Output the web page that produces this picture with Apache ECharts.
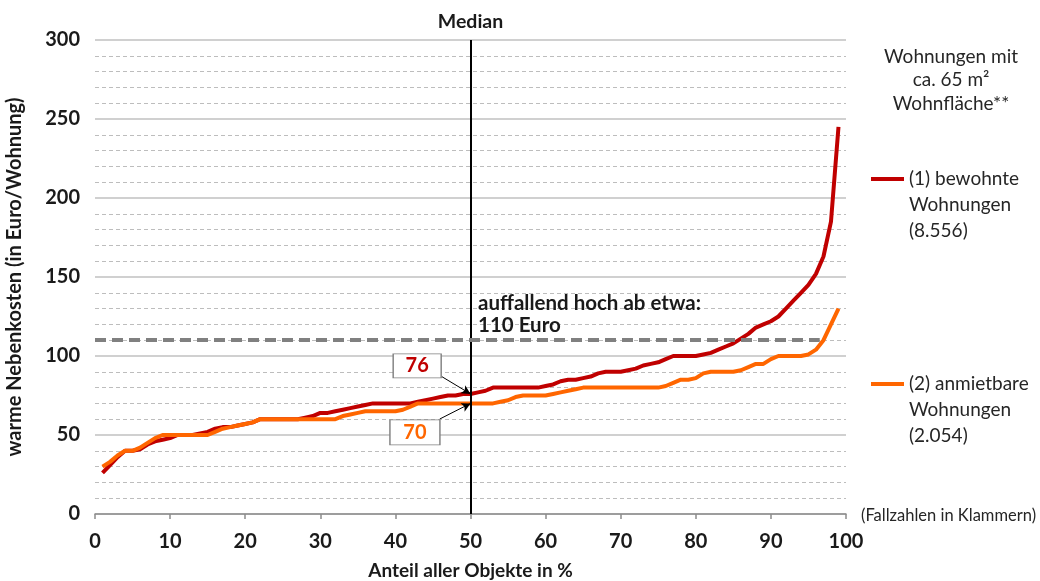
<!DOCTYPE html>
<html>
<head>
<meta charset="utf-8">
<script src="https://cdn.jsdelivr.net/npm/echarts@6/dist/echarts.min.js"></script>
<style>
  html, body { margin: 0; padding: 0; background: #fff; }
  #chart { width: 1040px; height: 581px; }
</style>
</head>
<body>
<div id="chart"></div>
<script>
// Anteil aller Objekte (Perzentil in %)
var anteil = [1, 2, 3, 4, 5, 6, 7, 8, 9, 10, 11, 12, 13, 14, 15, 16, 17, 18, 19, 20,
  21, 22, 23, 24, 25, 26, 27, 28, 29, 30, 31, 32, 33, 34, 35, 36, 37, 38, 39, 40,
  41, 42, 43, 44, 45, 46, 47, 48, 49, 50, 51, 52, 53, 54, 55, 56, 57, 58, 59, 60,
  61, 62, 63, 64, 65, 66, 67, 68, 69, 70, 71, 72, 73, 74, 75, 76, 77, 78, 79, 80,
  81, 82, 83, 84, 85, 86, 87, 88, 89, 90, 91, 92, 93, 94, 95, 96, 97, 98, 99];

// (1) bewohnte Wohnungen
var bewohnt = [26, 31, 36, 40, 40, 41, 44, 46, 47, 48, 50, 50, 50, 51, 52, 54, 55, 55, 56, 57,
  58, 60, 60, 60, 60, 60, 60, 61, 62, 64, 64, 65, 66, 67, 68, 69, 70, 70, 70, 70,
  70, 70, 71, 72, 73, 74, 75, 75, 76, 76, 77, 78, 80, 80, 80, 80, 80, 80, 80, 81,
  82, 84, 85, 85, 86, 87, 89, 90, 90, 90, 91, 92, 94, 95, 96, 98, 100, 100, 100, 100,
  101, 102, 104, 106, 108, 111, 114, 118, 120, 122, 125, 130, 135, 140, 145, 152, 163, 185, 245];

// (2) anmietbare Wohnungen
var anmietbar = [30, 33, 37, 40, 40, 42, 45, 48, 50, 50, 50, 50, 50, 50, 50, 52, 54, 55, 56, 57,
  58, 60, 60, 60, 60, 60, 60, 60, 60, 60, 60, 60, 62, 63, 64, 65, 65, 65, 65, 65,
  66, 68, 70, 70, 70, 70, 70, 70, 70, 70, 70, 70, 70, 71, 72, 74, 75, 75, 75, 75,
  76, 77, 78, 79, 80, 80, 80, 80, 80, 80, 80, 80, 80, 80, 80, 81, 83, 85, 85, 86,
  89, 90, 90, 90, 90, 91, 93, 95, 95, 98, 100, 100, 100, 100, 101, 104, 110, 120, 130];

var median = 50;
var medianBewohnt = 76;
var medianAnmietbar = 70;
var schwelle = 110;

var seriesNames = ['(1) bewohnte Wohnungen (8.556)', '(2) anmietbare Wohnungen (2.054)'];
var legendLabels = {};
legendLabels[seriesNames[0]] = '\n\n(1) bewohnte\nWohnungen\n(8.556)';
legendLabels[seriesNames[1]] = '\n\n(2) anmietbare\nWohnungen\n(2.054)';

function pairs(xs, ys) {
  return xs.map(function (x, i) { return [x, ys[i]]; });
}

var chartDom = document.getElementById('chart');
var myChart = echarts.init(chartDom);
var option;
var font = 'Lato, "Noto Sans", sans-serif';

option = {
  backgroundColor: '#fff',
  animation: false,
  textStyle: { fontFamily: font },
  title: {
    text: 'Wohnungen mit\nca. 65 m²\nWohnfläche**',
    left: 946, top: 40,
    textAlign: 'center',
    textStyle: { fontFamily: font, fontSize: 19, fontWeight: 'normal', color: '#262626', lineHeight: 23.5 }
  },
  legend: [
    {
      data: [seriesNames[0]],
      orient: 'vertical',
      left: 866, top: 109,
      icon: 'rect', itemWidth: 33, itemHeight: 4,
      formatter: function (name) { return legendLabels[name]; },
      textStyle: { fontFamily: font, fontSize: 19, color: '#262626', lineHeight: 26 }
    },
    {
      data: [seriesNames[1]],
      orient: 'vertical',
      left: 866, top: 314,
      icon: 'rect', itemWidth: 33, itemHeight: 4,
      formatter: function (name) { return legendLabels[name]; },
      textStyle: { fontFamily: font, fontSize: 19, color: '#262626', lineHeight: 26 }
    }
  ],
  graphic: [
    {
      type: 'text', left: 861, top: 507,
      style: { text: '(Fallzahlen in Klammern)', fill: '#262626', font: '16.5px ' + font }
    }
  ],
  grid: { left: 95, right: 194, top: 40, bottom: 67, outerBoundsMode: 'none' },
  xAxis: {
    type: 'value', min: 0, max: 100, interval: 10,
    name: 'Anteil aller Objekte in %', nameLocation: 'middle', nameGap: 47,
    nameTextStyle: { fontFamily: font, fontSize: 19, fontWeight: 'bold', color: '#1a1a1a' },
    axisLine: { lineStyle: { color: '#8c8c8c', width: 1.5 } },
    axisTick: { length: 5, lineStyle: { color: '#8c8c8c', width: 1.5 } },
    axisLabel: { margin: 18, fontFamily: font, fontSize: 20, fontWeight: 'bold', color: '#1a1a1a' },
    splitLine: { show: false }
  },
  yAxis: {
    type: 'value', min: 0, max: 300, interval: 50,
    name: 'warme Nebenkosten (in Euro/Wohnung)', nameLocation: 'middle', nameGap: 70,
    nameTextStyle: { fontFamily: font, fontSize: 20, fontWeight: 'bold', color: '#1a1a1a' },
    axisLine: { show: false },
    axisTick: { show: false },
    axisLabel: { margin: 15, fontFamily: font, fontSize: 20, fontWeight: 'bold', color: '#1a1a1a' },
    splitLine: { lineStyle: { color: '#c0c0c0', width: 1.5 } },
    minorTick: { show: false, splitNumber: 5 },
    minorSplitLine: { show: true, lineStyle: { color: '#bdbdbd', width: 1, type: [4, 3] } }
  },
  series: [
    {
      name: seriesNames[0],
      type: 'line',
      showSymbol: false,
      color: '#C00000',
      lineStyle: { width: 4, color: '#C00000' },
      data: pairs(anteil, bewohnt),
      z: 3,
      markLine: {
        silent: true,
        symbol: ['none', 'none'],
        data: [
          {
            xAxis: median,
            lineStyle: { color: '#000', width: 2, type: 'solid' },
            label: { show: true, position: 'end', distance: 8, formatter: 'Median',
              fontFamily: font, fontSize: 19.5, fontWeight: 'bold', color: '#1a1a1a' }
          },
          [
            { coord: [0, schwelle], lineStyle: { color: '#808080', width: 4, type: [11, 6] }, label: { show: false } },
            { coord: [96.5, schwelle] }
          ],
          [
            { coord: [46.2, 86.9], symbol: 'none', lineStyle: { color: '#000', width: 1, type: 'solid' }, label: { show: false } },
            { coord: [median, medianBewohnt], symbol: 'arrow', symbolSize: [7, 9] }
          ],
          [
            { coord: [45.9, 60.1], symbol: 'none', lineStyle: { color: '#000', width: 1, type: 'solid' }, label: { show: false } },
            { coord: [median, medianAnmietbar], symbol: 'arrow', symbolSize: [7, 9] }
          ]
        ]
      },
      markPoint: {
        silent: true,
        data: [
          {
            coord: [42.9, 93.7], symbol: 'rect', symbolSize: [48, 24],
            itemStyle: { color: '#fff', borderColor: '#7f7f7f', borderWidth: 1 },
            label: { show: true, position: 'inside', formatter: String(medianBewohnt),
              fontFamily: font, fontSize: 20, fontWeight: 'bold', color: '#C00000' }
          },
          {
            coord: [42.6, 51.6], symbol: 'rect', symbolSize: [50, 25],
            itemStyle: { color: '#fff', borderColor: '#7f7f7f', borderWidth: 1 },
            label: { show: true, position: 'inside', formatter: String(medianAnmietbar),
              fontFamily: font, fontSize: 20, fontWeight: 'bold', color: '#FF6600' }
          },
          {
            coord: [51, 126.6], symbol: 'circle', symbolSize: 0,
            label: { show: true, position: 'right', distance: 0, align: 'left',
              formatter: 'auffallend hoch ab etwa:\n110 Euro', lineHeight: 22,
              fontFamily: font, fontSize: 20.5, fontWeight: 'bold', color: '#1a1a1a' }
          }
        ]
      }
    },
    {
      name: seriesNames[1],
      type: 'line',
      showSymbol: false,
      color: '#FF6600',
      lineStyle: { width: 4, color: '#FF6600' },
      data: pairs(anteil, anmietbar),
      z: 4
    }
  ]
};

option && myChart.setOption(option);
</script>
</body>
</html>
